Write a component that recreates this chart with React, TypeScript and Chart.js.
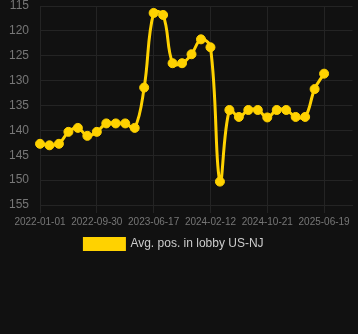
import React, { useEffect, useRef } from "react";
import { Chart, registerables } from "chart.js";

Chart.register(...registerables);

const labels: string[] = [
  "2022-01-01", "2022-02-15", "2022-04-01", "2022-05-16", "2022-06-30", "2022-08-15",
  "2022-09-30", "2022-11-12", "2022-12-25", "2023-02-07", "2023-03-22", "2023-05-04",
  "2023-06-17", "2023-07-27", "2023-09-05", "2023-10-15", "2023-11-24", "2024-01-03",
  "2024-02-12", "2024-03-25", "2024-05-06", "2024-06-17", "2024-07-29", "2024-09-09",
  "2024-10-21", "2024-11-30", "2025-01-09", "2025-02-18", "2025-03-30", "2025-05-10",
  "2025-06-19", "2025-07-29", "2025-09-07", "2025-10-17",
];

const avgPos: number[] = [
  142.7, 143.0, 142.7, 140.3, 139.5, 141.1, 140.3, 138.6, 138.6, 138.6, 139.5,
  131.4, 116.4, 116.8, 126.5, 126.5, 124.7, 121.7, 123.3, 150.3, 135.9,
  137.3, 135.9, 135.9, 137.4, 135.9, 135.9, 137.3, 137.3, 131.7, 128.6,
];

const seriesName = "Avg. pos. in lobby US-NJ";
const yMin = 115;
const yMax = 155;
const yStep = 5;

export default function App() {
  const ref = useRef<HTMLCanvasElement | null>(null);

  useEffect(() => {
    document.body.style.margin = "0";
    document.body.style.background = "#111111";
    if (!ref.current) return;
    const color = "#FFD200";
    const grid = "#242424";
    const font = "Liberation Sans, Arial, sans-serif";
    const chart = new Chart(ref.current, {
      type: "line",
      data: {
        labels,
        datasets: [
          {
            label: seriesName + "   ",
            data: avgPos,
            borderColor: color,
            backgroundColor: color,
            borderWidth: 3,
            pointRadius: 4.5,
            pointBorderWidth: 1,
            pointBackgroundColor: color,
            pointBorderColor: color,
            tension: 0.4,
            fill: false,
          },
        ],
      },
      options: {
        responsive: false,
        animation: false,
        maintainAspectRatio: false,
        layout: { padding: 0 },
        plugins: {
          legend: {
            position: "bottom",
            labels: {
              color: "#cccccc",
              boxWidth: 40,
              boxHeight: 11,
              padding: 12,
              font: { family: font, size: 12 },
            },
          },
          tooltip: { enabled: false },
        },
        scales: {
          x: {
            afterFit: (s: any) => {
              s.height = 21;
            },
            grid: { color: grid, tickColor: grid },
            border: { color: grid },
            ticks: {
              color: "#777777",
              maxRotation: 0,
              autoSkip: true,
              maxTicksLimit: 6,
              font: { family: font, size: 10 },
            },
          },
          y: {
            reverse: true,
            min: yMin,
            max: yMax,
            afterFit: (s: any) => {
              s.width = 40;
            },
            grid: { color: grid, tickColor: "transparent", tickLength: 11 },
            border: { color: grid },
            ticks: {
              stepSize: yStep,
              padding: 0,
              color: "#777777",
              font: { family: font, size: 12, lineHeight: 1 },
            },
          },
        },
      },
    });
    return () => chart.destroy();
  }, []);

  return (
    <div style={{ width: 358, height: 334, background: "#111111" }}>
      <canvas ref={ref} width={358} height={260} style={{ display: "block" }} />
    </div>
  );
}
